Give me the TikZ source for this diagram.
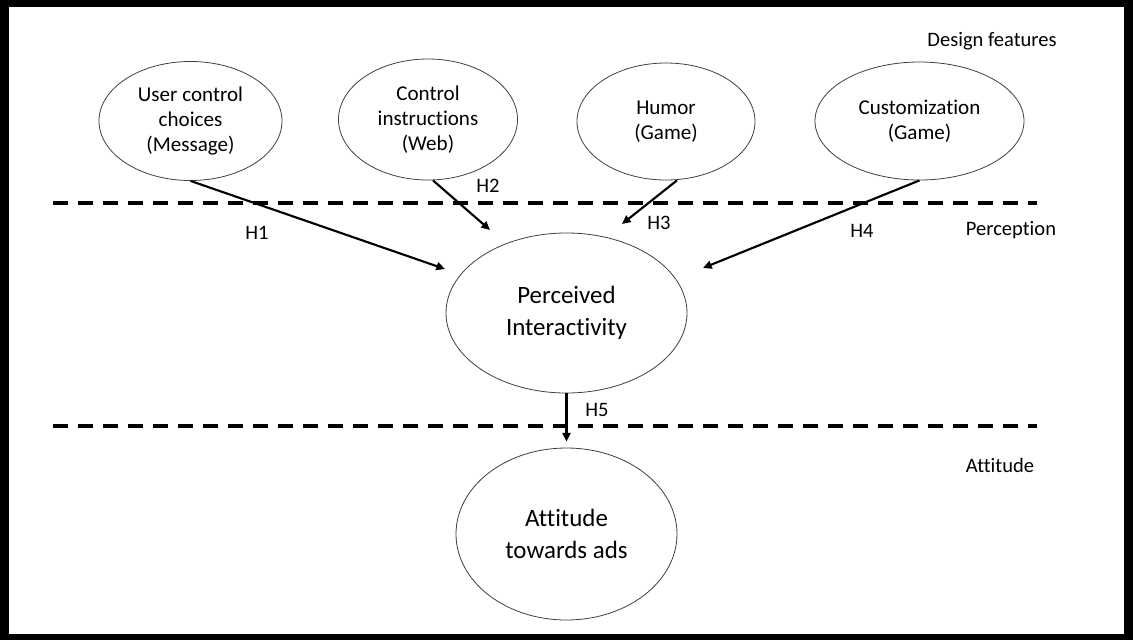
\documentclass[tikz,border=0pt]{standalone}
\usepackage{fontspec}
\setmainfont{Carlito}[Ligatures={NoCommon,NoRare}]
\usetikzlibrary{shapes.geometric,arrows.meta}
\begin{document}
\begin{tikzpicture}[x=0.75pt,y=-0.75pt,
  oval/.style={ellipse,draw=black!75,line width=0.6pt,inner sep=0pt,align=center,font=\fontsize{15.8}{19}\selectfont},
  bigoval/.style={oval,font=\fontsize{18.7}{24}\selectfont},
  lbl/.style={font=\fontsize{15.4}{18}\selectfont,inner sep=0pt},
  dashline/.style={line width=3pt,dash pattern=on 11.25pt off 7.5pt},
  arr/.style={line width=1.6pt,-{Triangle[length=6.5pt,width=6pt]}}]
\fill[black] (0,0) rectangle (1133,640);
\fill[white] (9,7) rectangle (1124,634);
\useasboundingbox (0,0) rectangle (1133,640);

% dashed layer separators
\draw[dashline] (53,203) -- (1037,203);
\draw[dashline] (53,426) -- (1037,426);

% nodes
\node[oval,minimum width=137.25pt,minimum height=89.25pt] (u) at (190.5,121) {User control\\choices\\(Message)};
\node[oval,minimum width=134.25pt,minimum height=90.75pt] (c) at (428,119.5) {Control\\instructions\\(Web)};
\node[oval,minimum width=133.5pt,minimum height=87.75pt] (h) at (666,121.5) {Humor\\(Game)};
\node[oval,minimum width=156.75pt,minimum height=88.5pt] (cu) at (919.5,121) {Customization\\(Game)};
\node[bigoval,minimum width=180.75pt,minimum height=120pt] (p) at (566.5,313) {Perceived\\Interactivity};
\node[bigoval,minimum width=165.75pt,minimum height=129pt] (a) at (566.5,534) {Attitude\\towards ads};

% arrow tips
\coordinate (t1) at (445,269);
\coordinate (t2) at (490,230);
\coordinate (t3) at (622,224);
\coordinate (t4) at (703,268);

\draw[arr] (u.south) -- (t1);
\draw[arr] ([xshift=3.75pt]c.south) -- (t2);
\draw[arr] ([xshift=8.25pt]h.south) -- (t3);
\draw[arr] (cu.south) -- (t4);
\draw[arr,shorten >=4.5pt] (p.south) -- (a.north);

% labels
\node[lbl] (l1) at (257,233) {H1};
\node[lbl] (l2) at (488,186) {H2};
\node[lbl] (l3) at (659,223) {H3};
\node[lbl] (l4) at (862,231) {H4};
\node[lbl] (l5) at (597,410) {H5};
\node[lbl] (df) at (992,41) {Design features};
\node[lbl] (pe) at (1011,230) {Perception};
\node[lbl] (at) at (1000,465) {Attitude};
\end{tikzpicture}
\end{document}
